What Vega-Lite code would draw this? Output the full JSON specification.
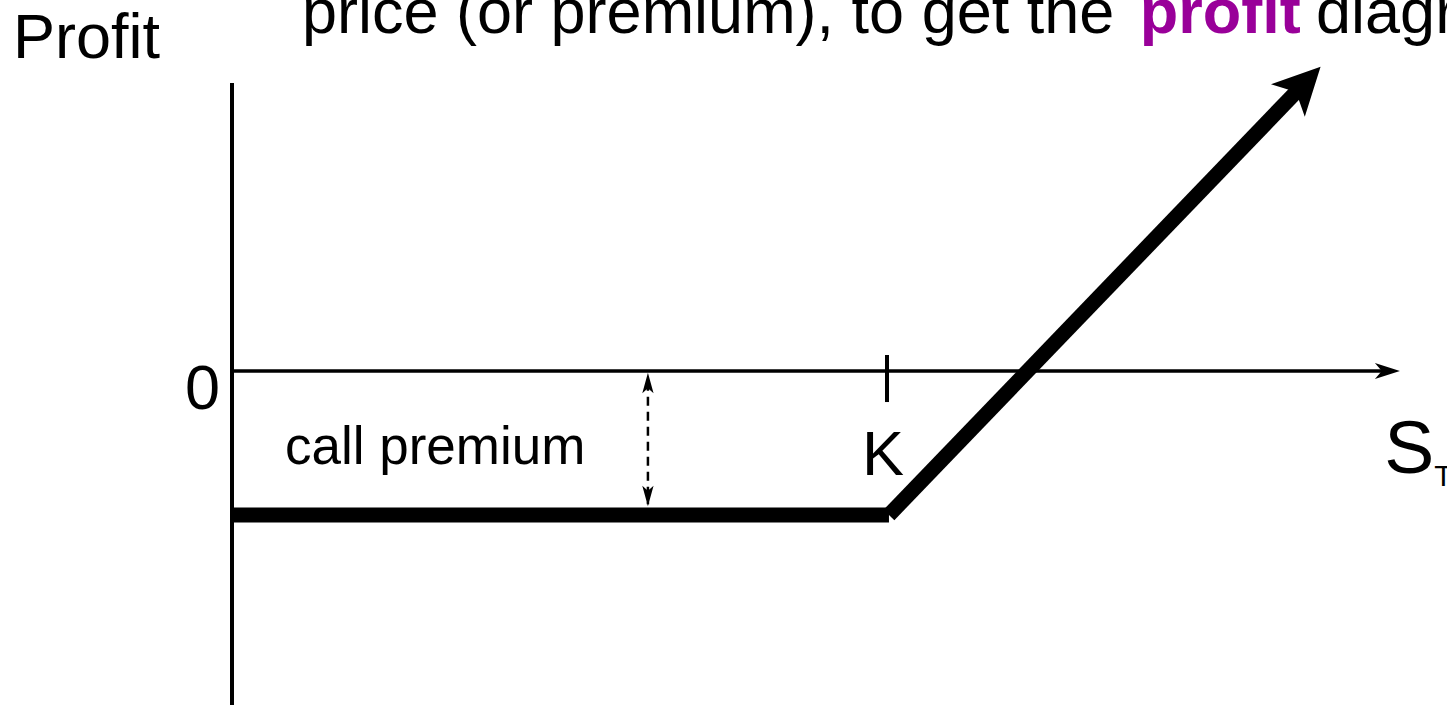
{
  "$schema": "https://vega.github.io/schema/vega-lite/v6.json",
  "width": 1447,
  "height": 705,
  "padding": 0,
  "autosize": {"type": "none"},
  "background": "white",
  "config": {"view": {"stroke": null}, "text": {"font": "Liberation Sans"}},
  "encoding": {
    "x": {"field": "x", "type": "quantitative", "scale": {"domain": [-35.42, 185.496], "nice": false, "zero": false}, "axis": null},
    "y": {"field": "y", "type": "quantitative", "scale": {"domain": [-46.389, 51.528], "nice": false, "zero": false}, "axis": null}
  },
  "layer": [
    {
      "data": {"values": [{"x": 0, "y": 40.0, "x2": 0, "y2": -46.389}]},
      "mark": {"type": "rule", "stroke": "black", "strokeWidth": 4, "strokeCap": "butt"},
      "encoding": {"x2": {"field": "x2"}, "y2": {"field": "y2"}}
    },
    {
      "data": {"values": [{"x": 0, "y": 0, "x2": 176.0, "y2": 0}]},
      "mark": {"type": "rule", "stroke": "black", "strokeWidth": 3.5, "strokeCap": "butt"},
      "encoding": {"x2": {"field": "x2"}, "y2": {"field": "y2"}}
    },
    {
      "data": {"values": [{"x": 100, "y": 2.22, "x2": 100, "y2": -4.31}]},
      "mark": {"type": "rule", "stroke": "black", "strokeWidth": 4, "strokeCap": "butt"},
      "encoding": {"x2": {"field": "x2"}, "y2": {"field": "y2"}}
    },
    {
      "data": {"values": [{"x": 63.5, "y": -1.5, "x2": 63.5, "y2": -18.5}]},
      "mark": {"type": "rule", "stroke": "black", "strokeWidth": 2.5, "strokeDash": [9, 6], "strokeCap": "butt"},
      "encoding": {"x2": {"field": "x2"}, "y2": {"field": "y2"}}
    },
    {
      "data": {"values": [
        {"x": 0, "y": -20, "x2": 100.3, "y2": -20},
        {"x": 100.3, "y": -20, "x2": 163.7, "y2": 39.92}
      ]},
      "mark": {"type": "rule", "stroke": "black", "strokeWidth": 15, "strokeCap": "butt"},
      "encoding": {"x2": {"field": "x2"}, "y2": {"field": "y2"}}
    },
    {
      "data": {"values": [{"x": 163.7, "y": 39.92}]},
      "mark": {"type": "point", "shape": "M0,-1L1,1L0,0.5L-1,1Z", "size": 2209, "angle": 44.05, "filled": true, "fill": "black", "stroke": null, "opacity": 1}
    },
    {
      "data": {"values": [{"x": 176.4, "y": 0}]},
      "mark": {"type": "point", "shape": "M0,-1L0.64,1L0,0.45L-0.64,1Z", "size": 625, "angle": 90, "filled": true, "fill": "black", "stroke": null, "opacity": 1}
    },
    {
      "data": {"values": [{"x": 63.5, "y": -1.667}]},
      "mark": {"type": "point", "shape": "M0,-1L0.55,1L0,0.5L-0.55,1Z", "size": 420, "angle": 0, "filled": true, "fill": "black", "stroke": null, "opacity": 1}
    },
    {
      "data": {"values": [{"x": 63.5, "y": -17.36}]},
      "mark": {"type": "point", "shape": "M0,-1L0.55,1L0,0.5L-0.55,1Z", "size": 420, "angle": 180, "filled": true, "fill": "black", "stroke": null, "opacity": 1}
    },
    {
      "data": {"values": [
        {"x": -33.44, "y": 43.47, "label": "Profit"},
        {"x": 10.69, "y": 46.94, "label": "price (or premium), to get the"}
      ]},
      "mark": {"type": "text", "fontSize": 63, "align": "left", "baseline": "alphabetic", "fill": "black"},
      "encoding": {"text": {"field": "label"}}
    },
    {
      "data": {"values": [{"x": 138.6, "y": 46.94, "label": "profit"}]},
      "mark": {"type": "text", "fontSize": 63, "fontWeight": "bold", "align": "left", "baseline": "alphabetic", "fill": "#990099"},
      "encoding": {"text": {"field": "label"}}
    },
    {
      "data": {"values": [{"x": 165.5, "y": 46.94, "label": "diagram"}]},
      "mark": {"type": "text", "fontSize": 63, "align": "left", "baseline": "alphabetic", "fill": "black"},
      "encoding": {"text": {"field": "label"}}
    },
    {
      "data": {"values": [
        {"x": -4.5, "y": -5.28, "label": "0"},
        {"x": 99.4, "y": -14.44, "label": "K"}
      ]},
      "mark": {"type": "text", "fontSize": 63, "align": "center", "baseline": "alphabetic", "fill": "black"},
      "encoding": {"text": {"field": "label"}}
    },
    {
      "data": {"values": [{"x": 8.09, "y": -12.92, "label": "call premium"}]},
      "mark": {"type": "text", "fontSize": 53, "align": "left", "baseline": "alphabetic", "fill": "black"},
      "encoding": {"text": {"field": "label"}}
    },
    {
      "data": {"values": [{"x": 175.9, "y": -14.17, "label": "S"}]},
      "mark": {"type": "text", "fontSize": 75, "align": "left", "baseline": "alphabetic", "fill": "black"},
      "encoding": {"text": {"field": "label"}}
    },
    {
      "data": {"values": [{"x": 183.56, "y": -15.97, "label": "T"}]},
      "mark": {"type": "text", "fontSize": 30, "align": "left", "baseline": "alphabetic", "fill": "black"},
      "encoding": {"text": {"field": "label"}}
    }
  ]
}
